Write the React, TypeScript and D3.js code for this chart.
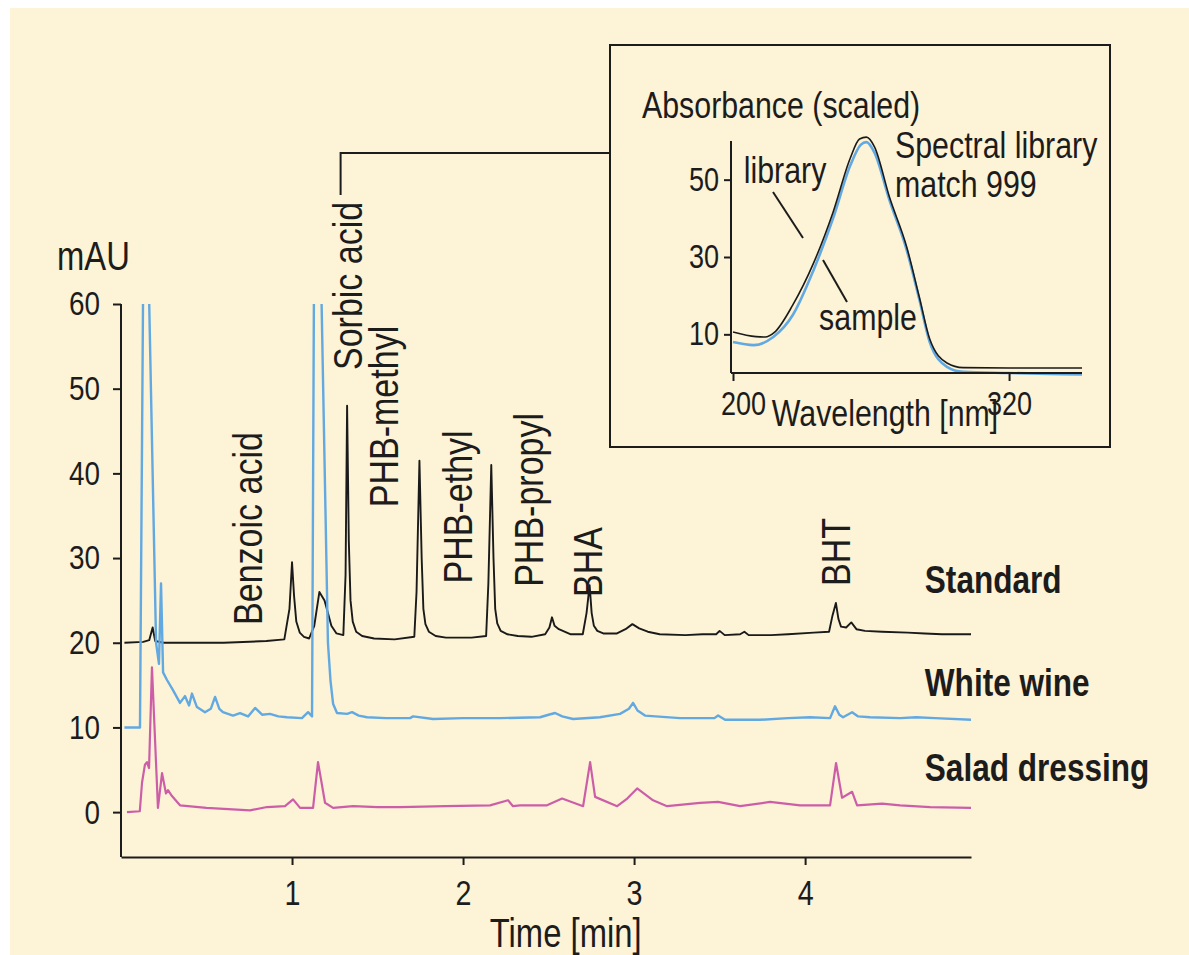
import React, { useEffect, useRef } from 'react';
import * as d3 from 'd3';

// chromatogram, [time (min), mAU]
const standard: [number, number][] = [
  [0.02, 20.0], [0.13, 20.1], [0.165, 20.3], [0.185, 21.8], [0.2, 20.2], [0.25, 20.0], [0.6, 20.0],
  [0.85, 20.2], [0.955, 20.4], [0.985, 24], [1.0, 29.5], [1.012, 25.5], [1.025, 22.5], [1.045, 21.2],
  [1.07, 20.7], [1.1, 20.5], [1.13, 22.0], [1.16, 26], [1.19, 25], [1.21, 23.5], [1.23, 22.0],
  [1.26, 21.1], [1.3, 20.9], [1.313, 28], [1.322, 48], [1.332, 32], [1.342, 25], [1.355, 22.5],
  [1.375, 21.3], [1.41, 20.8], [1.48, 20.5], [1.6, 20.4], [1.715, 20.7], [1.728, 26], [1.745, 41.5],
  [1.758, 30], [1.768, 24], [1.78, 22.2], [1.8, 21.3], [1.84, 20.8], [1.9, 20.6], [2.05, 20.6],
  [2.135, 20.8], [2.148, 27], [2.165, 41], [2.178, 30], [2.188, 24], [2.2, 22.3], [2.22, 21.4],
  [2.26, 21.0], [2.32, 20.8], [2.4, 20.7], [2.48, 21.0], [2.505, 21.8], [2.52, 23.0], [2.535, 22.0],
  [2.56, 21.6], [2.63, 21.0], [2.7, 21.0], [2.722, 23.5], [2.74, 26.8], [2.752, 23.5], [2.765, 22],
  [2.785, 21.4], [2.82, 21.1], [2.9, 21.1], [2.95, 21.6], [2.99, 22.2], [3.03, 21.7], [3.08, 21.3],
  [3.15, 21.0], [3.3, 20.9], [3.4, 21.0], [3.48, 21.0], [3.5, 21.4], [3.53, 20.9], [3.62, 21.0],
  [3.645, 21.3], [3.67, 20.9], [3.8, 20.9], [3.9, 21.0], [4.05, 21.2], [4.14, 21.3], [4.16, 23.2],
  [4.18, 24.7], [4.195, 22.8], [4.21, 21.9], [4.24, 21.8], [4.27, 22.4], [4.3, 21.6], [4.35, 21.4],
  [4.45, 21.3], [4.6, 21.2], [4.7, 21.1], [4.8, 21.0], [4.98, 21.0],
];

const whiteWine: [number, number][] = [
  [0.02, 10.0], [0.111, 10.0], [0.129, 61], [0.164, 61], [0.205, 20], [0.222, 17.5], [0.234, 27],
  [0.246, 16.5], [0.269, 15.6], [0.304, 14.4], [0.345, 12.9], [0.374, 13.7], [0.398, 12.6],
  [0.415, 14.0], [0.444, 12.4], [0.491, 11.8], [0.525, 12.2], [0.55, 13.6], [0.575, 12.2],
  [0.596, 11.8], [0.655, 11.4], [0.696, 11.7], [0.743, 11.3], [0.784, 12.3], [0.825, 11.5],
  [0.871, 11.6], [0.92, 11.3], [0.971, 11.2], [1.058, 11.1], [1.094, 11.8], [1.117, 11.3],
  [1.128, 61], [1.172, 61], [1.21, 20], [1.225, 15.5], [1.24, 12.8], [1.263, 11.7], [1.322, 11.6],
  [1.351, 11.8], [1.39, 11.4], [1.439, 11.2], [1.55, 11.1], [1.69, 11.1], [1.708, 11.3],
  [1.825, 11.0], [2.0, 11.1], [2.216, 11.1], [2.45, 11.2], [2.5, 11.5], [2.538, 11.7], [2.58, 11.3],
  [2.643, 11.0], [2.8, 11.2], [2.918, 11.6], [2.97, 12.2], [2.994, 12.9], [3.02, 12.0], [3.064, 11.4],
  [3.269, 11.1], [3.47, 11.1], [3.491, 11.4], [3.532, 10.9], [3.737, 10.9], [3.9, 11.1],
  [4.029, 11.2], [4.146, 11.1], [4.175, 12.5], [4.2, 11.5], [4.222, 11.2], [4.275, 11.8],
  [4.31, 11.3], [4.38, 11.2], [4.556, 11.1], [4.65, 11.2], [4.76, 11.1], [4.982, 10.9],
];

const saladDressing: [number, number][] = [
  [0.035, 0.0], [0.11, 0.1], [0.123, 3.5], [0.14, 5.6], [0.152, 5.9], [0.164, 5.2], [0.181, 17.1],
  [0.216, 0.5], [0.24, 4.6], [0.263, 2.2], [0.275, 2.6], [0.298, 1.9], [0.345, 0.8], [0.5, 0.5],
  [0.754, 0.2], [0.854, 0.6], [0.959, 0.7], [1.006, 1.5], [1.047, 0.5], [1.123, 0.5], [1.152, 5.9],
  [1.193, 1.1], [1.24, 0.5], [1.357, 0.7], [1.5, 0.6], [1.632, 0.6], [1.9, 0.7], [2.158, 0.8],
  [2.263, 1.4], [2.292, 0.7], [2.333, 0.8], [2.491, 0.8], [2.579, 1.6], [2.702, 0.7], [2.743, 5.9],
  [2.772, 1.8], [2.901, 0.7], [2.96, 1.6], [3.018, 2.8], [3.111, 1.4], [3.193, 0.7], [3.386, 1.1],
  [3.491, 1.2], [3.62, 0.7], [3.795, 1.2], [3.971, 0.8], [4.146, 0.8], [4.181, 5.8], [4.216, 1.7],
  [4.275, 2.4], [4.304, 0.8], [4.45, 1.0], [4.556, 0.8], [4.731, 0.6], [4.982, 0.5],
];

const seriesNames = ['Standard', 'White wine', 'Salad dressing'];
const peakNames = ['Benzoic acid', 'Sorbic acid', 'PHB-methyl', 'PHB-ethyl', 'PHB-propyl', 'BHA', 'BHT'];
const timeTicks = [1, 2, 3, 4];
const mauTicks = [0, 10, 20, 30, 40, 50, 60];

// inset UV spectrum, [wavelength nm, absorbance scaled]
const library: [number, number][] = [
  [200, 10.6], [210, 9.4], [214, 9.3], [218, 10.5], [226, 17.6], [235, 28.4], [243.5, 41.6],
  [251, 55.6], [255, 60.5], [258, 61.0], [261.5, 58.5], [268, 45.5], [275.5, 32.6], [281, 19.6],
  [285.5, 8.8], [293, 2.6], [300, 1.4], [320, 1.3], [351.7, 1.3],
];
const sample: [number, number][] = [
  [200, 8.0], [209, 7.2], [217.5, 9.3], [226, 15.0], [235, 26.6], [243.5, 40.0], [251, 53.7],
  [255.5, 59.0], [258, 59.7], [261.5, 57.0], [268, 44.7], [275.5, 31.8], [281, 19.0], [285.5, 8.0],
  [293, 1.6], [300, 0.3], [320, 0.0], [351.7, -0.4],
];
const nmTicks = [200, 320];
const absTicks = [10, 30, 50];

const FONT = "'Liberation Sans', Arial, sans-serif";
const INK = '#1c1c1c';
const SX = 0.82; // narrow look

const App = () => {
  const svgRef = useRef<SVGSVGElement>(null);

  useEffect(() => {
    const svg = d3.select(svgRef.current);
    svg.selectAll('*').remove();
    svg.attr('font-family', FONT).attr('fill', INK);

    const addText = (x: number, y: number, str: string, size: number, anchor = 'start', rot = 0, bold = false) =>
      svg.append('text')
        .attr('transform', `translate(${x},${y})${rot ? ` rotate(${rot})` : ''} scale(${SX},1)`)
        .attr('font-size', size)
        .attr('text-anchor', anchor)
        .attr('font-weight', bold ? 'bold' : 'normal')
        .text(str);

    svg.append('rect')
      .attr('x', 10).attr('y', 8).attr('width', 1179).attr('height', 947)
      .attr('fill', '#fdf3d7');

    // ---------- main chromatogram ----------
    const x = d3.scaleLinear().domain([0, 4.97]).range([121, 971]);
    const y = d3.scaleLinear().domain([-5.3, 60]).range([857, 304]);

    svg.append('clipPath').attr('id', 'plotclip')
      .append('rect').attr('x', 121).attr('y', y(60)).attr('width', 850).attr('height', y(-5.3) - y(60));

    const line = d3.line<[number, number]>().x((d) => x(d[0])).y((d) => y(d[1]));
    const traces = [
      { data: saladDressing, color: '#cc5ea8', w: 2.2 },
      { data: standard, color: '#1a1a1a', w: 1.9 },
      { data: whiteWine, color: '#62a9e2', w: 2.4 },
    ];
    svg.append('g').attr('clip-path', 'url(#plotclip)')
      .selectAll('path').data(traces).enter().append('path')
      .attr('d', (d) => line(d.data))
      .attr('fill', 'none')
      .attr('stroke', (d) => d.color)
      .attr('stroke-width', (d) => d.w)
      .attr('stroke-linejoin', 'round');

    // axes
    const yAxis = d3.axisLeft(y).tickValues(mauTicks).tickSize(8).tickSizeOuter(0);
    const gy = svg.append('g').attr('transform', `translate(${x(0)},0)`).call(yAxis);
    gy.select('.domain').remove();
    gy.append('line').attr('x1', 0).attr('x2', 0).attr('y1', y(60)).attr('y2', y(-5.3));
    gy.selectAll('.tick text').attr('x', -21 / SX);

    const xAxis = d3.axisBottom(x).tickValues(timeTicks).tickFormat(d3.format('d')).tickSize(8).tickSizeOuter(0).tickPadding(15);
    const gx = svg.append('g').attr('transform', `translate(0,${y(-5.3)})`).call(xAxis);

    [gx, gy].forEach((g) => {
      g.attr('font-family', FONT).attr('font-size', 34);
      g.selectAll('line').attr('stroke', INK).attr('stroke-width', 2);
      g.selectAll('.domain').attr('stroke', INK).attr('stroke-width', 2);
      g.selectAll('text').attr('fill', INK).attr('transform', `scale(${SX},1)`);
    });
    gx.attr('font-size', 35);

    addText(57, 270, 'mAU', 40);
    addText(x(2.6), 947, 'Time [min]', 40, 'middle');

    // peak names, rotated; [time of baseline, mAU of text start]
    const peakLabelAt = [[0.825, 22.1], [1.41, 52.2], [1.62, 36], [2.05, 27], [2.47, 26.6], [2.81, 25.4], [4.26, 26.7]];
    peakNames.forEach((name, i) => addText(x(peakLabelAt[i][0]), y(peakLabelAt[i][1]), name, 41.5, 'start', -90));

    const seriesLabelAt = [25.9, 13.7, 3.7];
    seriesNames.forEach((name, i) => addText(x(4.70), y(seriesLabelAt[i]), name, 38.5, 'start', 0, true));

    // ---------- inset spectrum ----------
    svg.append('rect')
      .attr('x', 610).attr('y', 45).attr('width', 500).attr('height', 402)
      .attr('fill', 'none').attr('stroke', INK).attr('stroke-width', 2);
    svg.append('path')
      .attr('d', `M${x(1.284)},${195}V153H610`)
      .attr('fill', 'none').attr('stroke', INK).attr('stroke-width', 2);

    const wx = d3.scaleLinear().domain([200, 351.7]).range([733, 1082]);
    const ay = d3.scaleLinear().domain([0, 60]).range([373, 141]);
    const spec = d3.line<[number, number]>().x((d) => wx(d[0])).y((d) => ay(d[1])).curve(d3.curveMonotoneX);

    svg.append('path').attr('d', spec(sample)).attr('fill', 'none')
      .attr('stroke', '#62a9e2').attr('stroke-width', 2.6);
    svg.append('path').attr('d', spec(library)).attr('fill', 'none')
      .attr('stroke', '#1a1a1a').attr('stroke-width', 1.6);

    const ayAxis = d3.axisLeft(ay).tickValues(absTicks).tickSize(7).tickSizeOuter(0);
    const gay = svg.append('g').attr('transform', `translate(${wx(200) - 2},0)`).call(ayAxis);
    gay.select('.domain').remove();
    gay.append('line').attr('x1', 0).attr('x2', 0).attr('y1', 141).attr('y2', 373);
    gay.selectAll('.tick text').attr('x', -12 / SX);
    const wxAxis = d3.axisBottom(wx).tickValues(nmTicks).tickSize(8).tickSizeOuter(0).tickPadding(11);
    const gwx = svg.append('g').attr('transform', 'translate(0,373)').call(wxAxis);
    gwx.select('.domain').attr('d', `M${wx(200) - 2},0H${wx(351.7)}`);

    [gay, gwx].forEach((g) => {
      g.attr('font-family', FONT).attr('font-size', 33);
      g.selectAll('line').attr('stroke', INK).attr('stroke-width', 2);
      g.selectAll('.domain').attr('stroke', INK).attr('stroke-width', 2);
      g.selectAll('text').attr('fill', INK).attr('transform', `scale(${SX},1)`);
    });
    gwx.selectAll('.tick').filter((d) => d === 200).select('text').attr('x', 10 / SX);

    addText(642, 118, 'Absorbance (scaled)', 37);
    addText(885, 426, 'Wavelength [nm]', 37, 'middle');
    addText(895, 158, 'Spectral library', 37);
    addText(895, 197, 'match 999', 37);
    addText(785, 183, 'library', 37, 'middle');
    addText(868, 330, 'sample', 37, 'middle');
    svg.append('line').attr('x1', 773).attr('y1', 192).attr('x2', 803).attr('y2', 238)
      .attr('stroke', INK).attr('stroke-width', 2);
    svg.append('line').attr('x1', 823).attr('y1', 260).attr('x2', 847).attr('y2', 302)
      .attr('stroke', INK).attr('stroke-width', 2);
  }, []);

  return (
    <svg ref={svgRef} width={1189} height={955}
      style={{ position: 'absolute', left: 0, top: 0, display: 'block' }} />
  );
};

export default App;
